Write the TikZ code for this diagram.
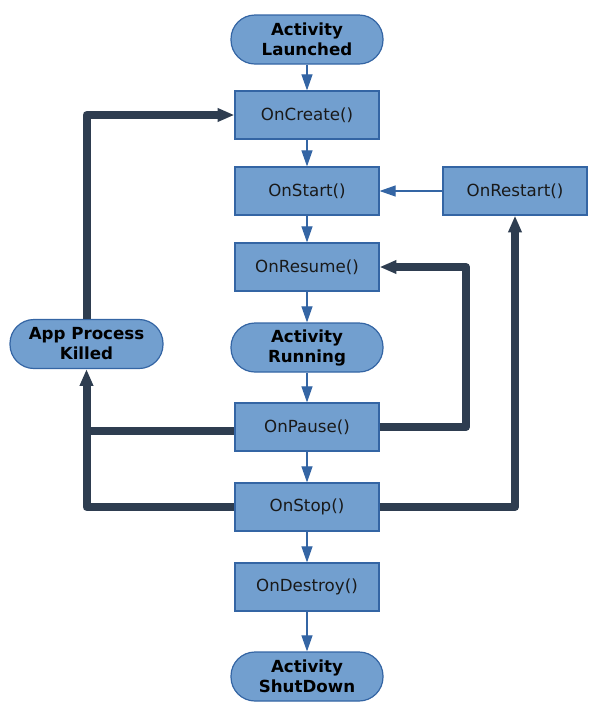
\documentclass[tikz,border=0pt]{standalone}
\usepackage{fontspec}
\setmainfont{DejaVu Sans}
\usetikzlibrary{arrows.meta}
\definecolor{boxfill}{HTML}{729FCF}
\definecolor{boxdraw}{HTML}{3465A4}
\definecolor{thickc}{HTML}{2E3D50}
\tikzset{
  stepbox/.style={draw=boxdraw, fill=boxfill, line width=0.9pt, minimum width=108pt, minimum height=36pt, inner sep=0pt, font=\fontsize{12.5}{15}\selectfont, text=black!90},
  stadium/.style={draw=boxdraw, fill=boxfill, line width=0.9pt, minimum width=114pt, minimum height=36.75pt, inner sep=0pt, rounded corners=18pt, align=center, font=\fontsize{12.5}{15}\selectfont\bfseries},
  thin/.style={draw=boxdraw, line width=0.8pt, -{Triangle[length=12pt,width=8.25pt]}},
  thick/.style={draw=thickc, line width=6pt, line join=round, -{Triangle[length=12.5pt,width=9.5pt]}},
  thickline/.style={draw=thickc, line width=6pt, line join=round},
}
\begin{document}
\begin{tikzpicture}[x=0.75pt,y=-0.75pt]
\useasboundingbox (0,0) rectangle (605,704);
\node[stadium] (launched) at (307,39.5) {Activity\\Launched};
\node[stepbox] (create) at (307,115) {OnCreate()};
\node[stepbox] (start) at (307,191) {OnStart()};
\node[stepbox] (restart) at (515,191) {OnRestart()};
\node[stepbox] (resume) at (307,267) {OnResume()};
\node[stadium] (running) at (307,347.5) {Activity\\Running};
\node[stadium, minimum width=114.75pt] (killed) at (86.5,344) {App Process\\Killed};
\node[stepbox] (pause) at (307,427) {OnPause()};
\node[stepbox] (stop) at (307,507) {OnStop()};
\node[stepbox] (destroy) at (307,587) {OnDestroy()};
\node[stadium] (shutdown) at (307,676.5) {Activity\\ShutDown};

\coordinate (kx) at (86.5,507);
\coordinate (px) at (86.5,431);
\coordinate (rx) at (466,427);
\coordinate (sx) at (515,507);

\draw[thin] (launched) -- (create);
\draw[thin] (create) -- (start);
\draw[thin] (start) -- (resume);
\draw[thin] (resume) -- (running);
\draw[thin] (running) -- (pause);
\draw[thin] (pause) -- (stop);
\draw[thin] (stop) -- (destroy);
\draw[thin] (destroy) -- (shutdown);
\draw[thin] (restart) -- (start);

\draw[thick] (killed.north) |- (create.west);
\draw[thick] (stop.west) -- (kx) -- (killed.south);
\draw[thickline] ([yshift=-3pt]pause.west) -- (px);
\draw[thick] (pause.east) -- (rx) |- (resume.east);
\draw[thick] (stop.east) -- (sx) -- (restart.south);
\end{tikzpicture}
\end{document}
